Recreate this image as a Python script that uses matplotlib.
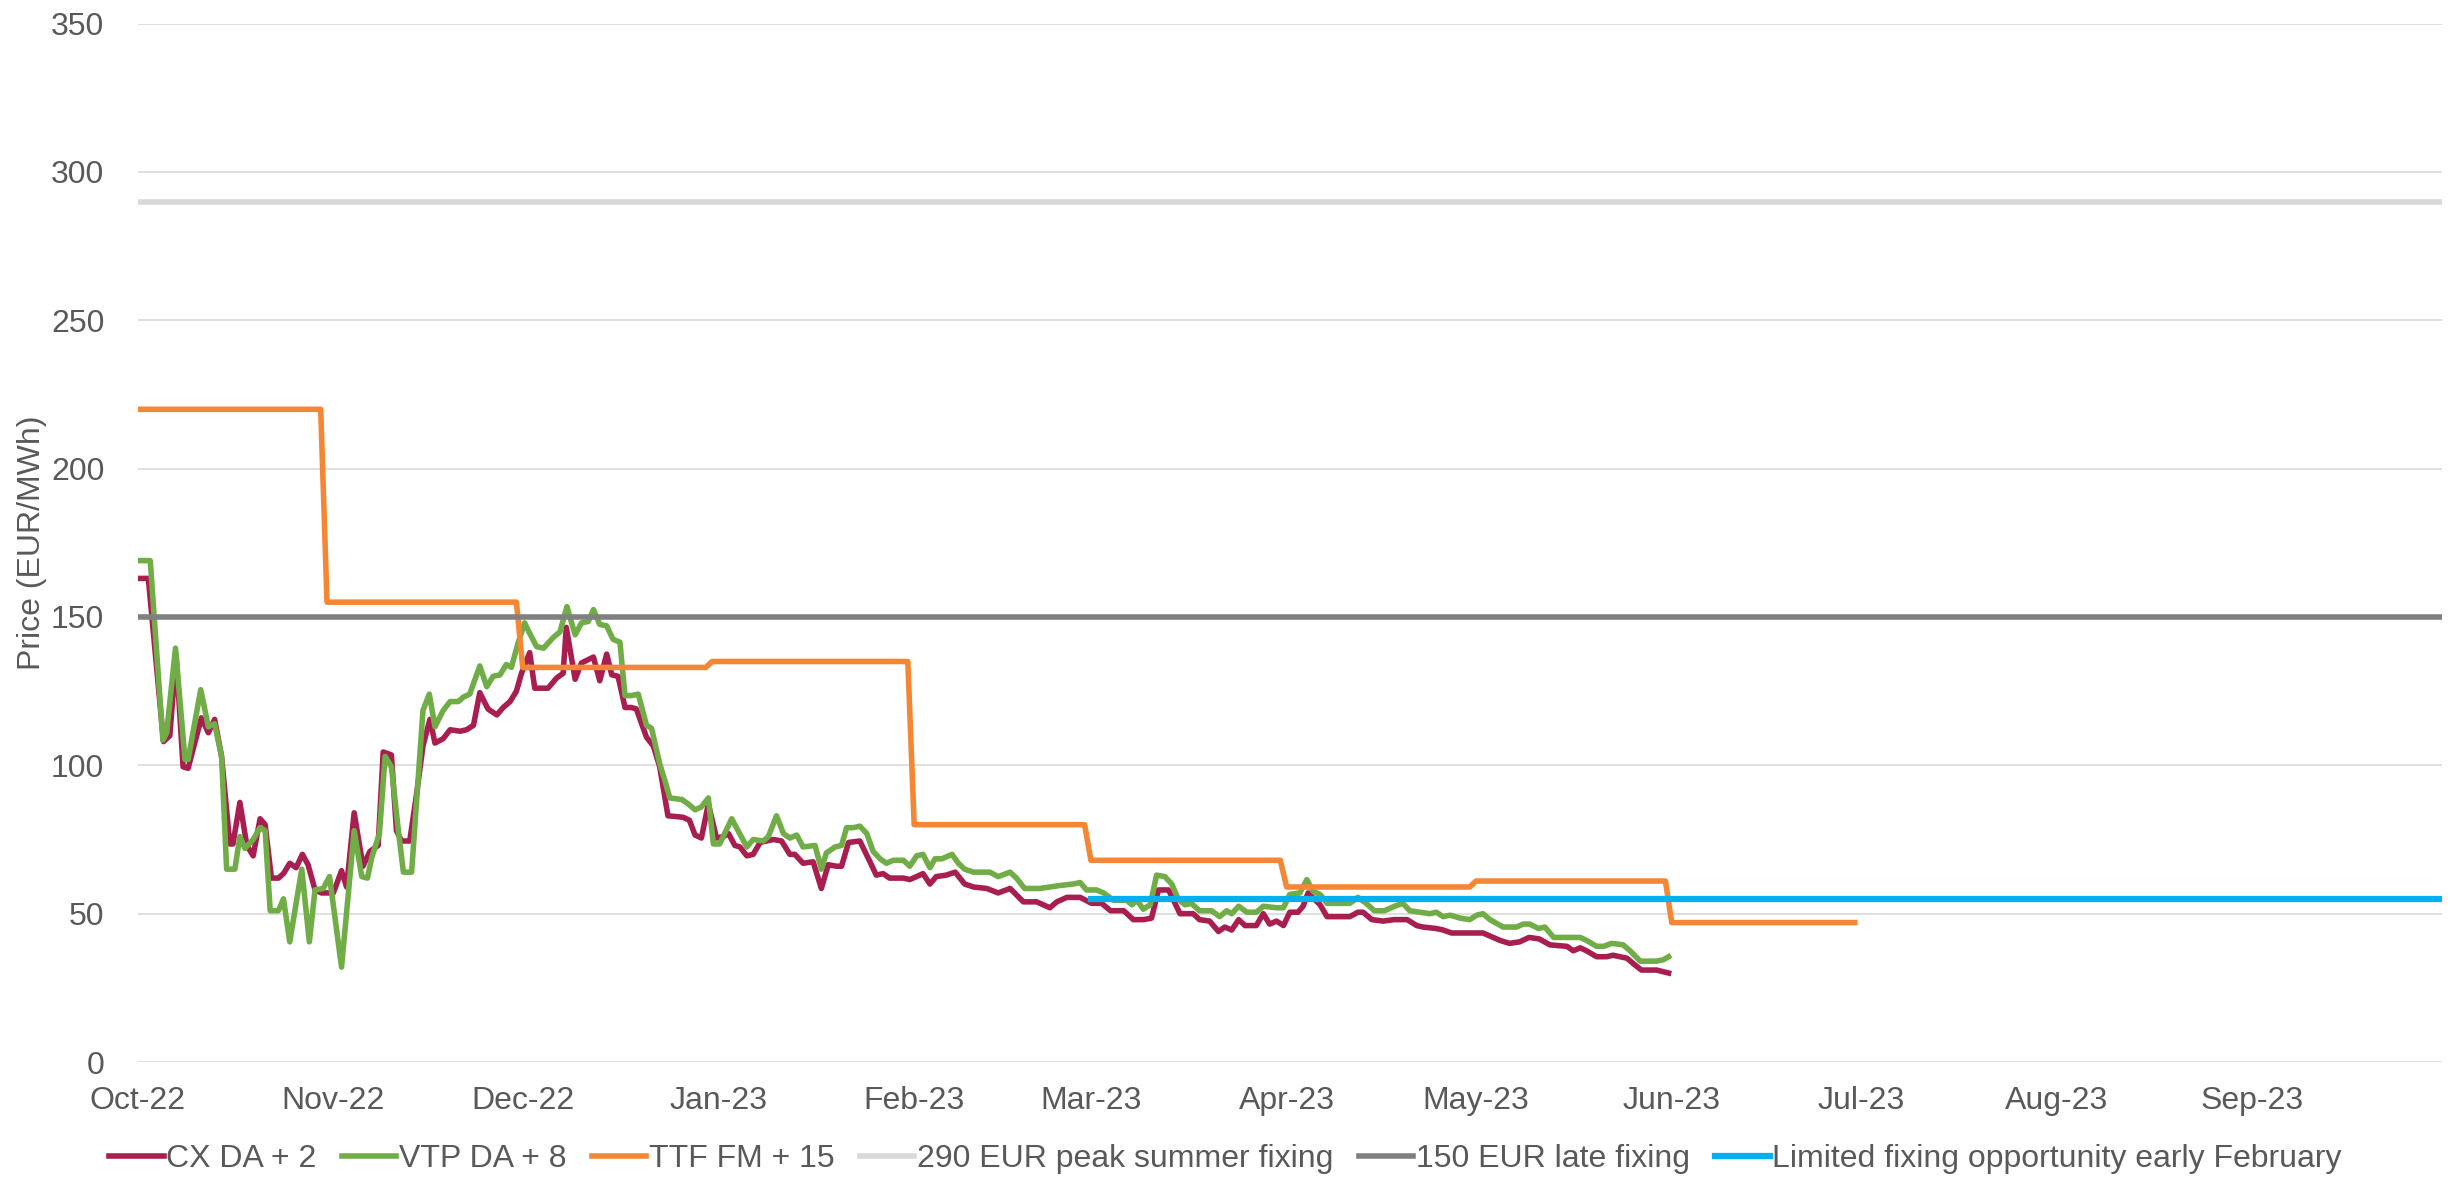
import datetime as dt
import matplotlib.pyplot as plt
import matplotlib.dates as mdates
import numpy as np

plt.rcParams['font.family'] = ['Liberation Sans', 'DejaVu Sans']

# dias desde el 1 de octubre de 2022, precio EUR/MWh
start = dt.date(2022, 10, 1)
end = dt.date(2023, 10, 1)

cx = [(0, 163), (1.7, 163), (4.1, 108), (5.1, 110), (6.1, 137), (7.2, 99.5), (8, 99),
      (10.1, 116), (11.2, 111), (12.2, 115.5), (13.3, 103), (14.6, 73.5), (15.1, 73.5),
      (16.2, 87.5), (17.3, 73), (18.3, 69.5), (19.4, 82), (20.2, 80), (21.2, 62), (22.3, 62),
      (23.1, 63.5), (24.1, 67), (25.1, 65.5), (26.1, 70), (27, 66.5), (28.1, 58), (29.1, 57),
      (31, 57), (32.3, 64.5), (33.1, 59), (34.3, 84), (35.7, 66), (36.8, 71), (38.1, 73),
      (38.9, 104.5), (40.2, 103.5), (41, 78), (41.8, 74.5), (43.1, 74.5), (44.2, 90.5),
      (45.2, 106.5), (46.3, 115.5), (47.1, 107.5), (48.4, 109), (49.5, 112), (51.1, 111.5),
      (52.1, 112), (53.2, 113.5), (54.2, 124.5), (55.5, 119), (56.9, 117), (57.9, 119.5),
      (59, 121.5), (60, 125), (60.8, 131), (62.1, 138), (62.9, 126), (65, 126), (66.4, 129.5),
      (67.4, 131), (67.9, 146.5), (69.3, 129), (70.3, 134.5), (72.2, 136.5), (73.2, 128.5),
      (74.3, 137.5), (75.1, 130.5), (76.1, 130), (77.2, 119.5), (78.2, 119.5), (79, 119),
      (80.6, 109.5), (81.7, 106.5), (82.7, 99.5), (84, 83), (86.4, 82.5), (87.4, 81.5),
      (88.3, 76.5), (89.3, 75.5), (90.4, 87), (91.7, 75.5), (92.8, 76), (93.6, 77), (94.6, 73),
      (95.4, 72.5), (96.5, 69.5), (97.5, 70), (98.6, 74), (99.6, 74.5), (100.7, 75), (102, 74.5),
      (103.3, 70), (104.1, 70), (105.4, 67), (107, 67.5), (108.3, 58.5), (109.4, 66.5),
      (110.7, 66), (111.5, 66), (112.6, 74), (114.4, 74.5), (116, 67.5), (117, 63), (118.1, 63.5),
      (119.1, 62), (121.3, 62), (122.3, 61.5), (123.4, 62.5), (124.4, 63.5), (125.5, 60),
      (126.5, 62.5), (128.1, 63), (129.5, 64), (131, 60), (132.4, 59), (134.5, 58.5), (136.3, 57),
      (138.2, 58.5), (140.3, 54), (142.4, 54), (144.5, 52), (145.6, 54), (147.2, 55.5),
      (149.3, 55.5), (151.1, 53.5), (152.7, 53.5), (154.1, 51), (156.2, 51), (157.7, 48),
      (159.3, 48), (160.6, 48.5), (161.7, 58), (163.3, 58), (164.1, 54.5), (165.1, 50),
      (167.2, 50), (168.2, 48), (169.8, 47.5), (171.2, 44), (172.2, 45.5), (173.3, 44.5),
      (174.4, 48), (175.4, 46), (177.2, 46), (178.3, 50), (179.3, 46.5), (180.4, 47.5),
      (181.5, 46), (182.5, 50.5), (183.8, 50.5), (184.6, 52.5), (185.4, 57), (186.6, 54.5),
      (187.3, 53), (188.4, 49), (192, 49), (193.3, 50.5), (194.1, 50.5), (195.5, 48),
      (197.3, 47.5), (199, 48), (201.1, 48), (202.6, 46), (203.6, 45.5), (205.7, 45),
      (206.8, 44.5), (208.1, 43.5), (213.1, 43.5), (214.7, 42), (215.8, 41), (217.3, 40),
      (218.9, 40.5), (220.4, 42), (222, 41.5), (223.7, 39.5), (226.4, 39), (227.4, 37.5),
      (228.5, 38.5), (229.5, 37.5), (231.1, 35.5), (232.7, 35.5), (233.7, 36), (235.9, 35),
      (237, 33), (238.2, 31), (240.6, 31), (242.5, 30)]

vtp = [(0, 169), (2, 169), (4, 108.5), (4.6, 111), (6, 139.5), (7.5, 102), (8, 102),
       (10, 125.5), (11.2, 113), (12.2, 114), (13.3, 103), (14.1, 65), (15.4, 65), (16.2, 76),
       (17, 72), (18.3, 75), (19.4, 79), (20.2, 78), (21, 51), (22.3, 51), (23.1, 55),
       (24.1, 40.5), (26, 65), (27.2, 40.5), (28.1, 58), (29.4, 58.5), (30.4, 62.5), (32.3, 32),
       (34.3, 78), (35.5, 62.5), (36.4, 62), (37.1, 69), (38.3, 77), (39.2, 103), (40.2, 99.5),
       (41.3, 78), (42.1, 64), (43.4, 64), (45.2, 118.5), (46.2, 124), (47.1, 113),
       (48.4, 118.5), (49.5, 121.5), (50.8, 121.5), (51.6, 123), (52.6, 124), (54.2, 133.5),
       (55.3, 126.5), (56.3, 130), (57.4, 130.5), (58.4, 134), (59.2, 133), (60.3, 141.5),
       (61.3, 148), (62.1, 144.5), (63.2, 140), (64.3, 139.5), (65.8, 143), (66.9, 145),
       (68, 153.5), (69.3, 144), (70.3, 148), (71.4, 148.5), (72.2, 152.5), (73.2, 147.5),
       (74.3, 147), (75.3, 142.5), (76.4, 141.5), (77.2, 123.5), (78.2, 123.5), (79.3, 124),
       (80.6, 113.5), (81.4, 112.5), (82.7, 100.5), (83.5, 95), (84.3, 89), (86.2, 88.5),
       (87.2, 87), (88.3, 85), (89.3, 86), (90.4, 89), (91.2, 73.5), (92.2, 73.5), (94.1, 82),
       (95.1, 78), (96.5, 72.5), (97.5, 75), (99.1, 74.5), (99.9, 76), (101.2, 83), (102.3, 77),
       (103.3, 75.5), (104.4, 76.5), (105.4, 72.5), (107.3, 73), (108.3, 65), (109.1, 70.5),
       (110.5, 72.5), (111.5, 73), (112.3, 79), (113.4, 79), (114.4, 79.5), (115.5, 77),
       (116.5, 71), (117.6, 68.5), (118.6, 67), (119.7, 68), (121.3, 68), (122.3, 66),
       (123.4, 69.5), (124.4, 70), (125.5, 65.5), (126.3, 68.5), (127.4, 68.5), (129, 70),
       (130, 67), (131, 65), (132.4, 64), (135, 64), (136.3, 62.5), (138.2, 64), (139.2, 62),
       (140.5, 58.5), (142.9, 58.5), (144.5, 59), (146.1, 59.5), (148.2, 60), (149.3, 60.5),
       (150.3, 58), (151.9, 58), (153, 57), (154.6, 54.5), (156.7, 54.5), (157.5, 53),
       (158.3, 54.5), (159.3, 51.5), (160.4, 53), (161.4, 63), (162.7, 62.5), (163.8, 60),
       (164.8, 55), (165.9, 53), (166.9, 53.5), (168.2, 51), (170.1, 51), (171.4, 49),
       (172.5, 51), (173.3, 50), (174.4, 52.5), (175.7, 50.5), (177.2, 50.5), (178.3, 52.5),
       (180.4, 52), (181.5, 52), (182.5, 56.5), (184.1, 57), (185.2, 61.5), (186.2, 57.5),
       (187.3, 56.5), (188.4, 53.5), (192, 53.5), (193.3, 55.5), (194.6, 53.5), (195.9, 51),
       (197.5, 51), (199.1, 52.5), (200.4, 53.5), (201.5, 51), (203.1, 50.5), (204.7, 50),
       (205.7, 50.5), (206.8, 49), (207.9, 49.5), (209.5, 48.5), (211, 48), (212.1, 49.5),
       (213.1, 50), (214.2, 48), (216.3, 45.5), (218.4, 45.5), (219.5, 46.5), (220.5, 46.5),
       (221.9, 45), (222.9, 45.5), (224.3, 42), (228.5, 42), (229.5, 41), (231.1, 39),
       (232.2, 39), (233.5, 40), (235.3, 39.5), (236.4, 37.5), (238, 34), (240.6, 34),
       (241.7, 34.5), (242.5, 35.5)]

# TTF front month + 15: periodo de cada producto mensual
ttf_start = ['2022-10-01', '2022-10-31', '2022-12-01', '2022-12-31', '2023-02-01',
             '2023-03-01', '2023-04-01', '2023-05-01', '2023-06-01']
ttf_end = ['2022-10-30', '2022-11-30', '2022-12-30', '2023-01-31', '2023-02-28',
           '2023-03-31', '2023-04-30', '2023-05-31', '2023-06-30']
ttf_vals = [220, 155, 133, 135, 80, 68, 59, 61, 47]

peak_fix = 290
late_fix = 150
feb_fix = 55
feb_fix_start = dt.date(2023, 3, 1)

t0 = mdates.date2num(start)
cx_x = t0 + np.array([d for d, v in cx])
cx_y = [v for d, v in cx]
vtp_x = t0 + np.array([d for d, v in vtp])
vtp_y = [v for d, v in vtp]

ttf_x, ttf_y = [], []
for s, e, v in zip(ttf_start, ttf_end, ttf_vals):
    ttf_x += [mdates.datestr2num(s), mdates.datestr2num(e)]
    ttf_y += [v, v]

fig = plt.figure(figsize=(24.53, 11.79), dpi=100)
ax = fig.add_axes([0.0561, 0.0992, 0.9394, 0.8808])

gris = '#595959'
lw = 4
l1, = ax.plot(cx_x, cx_y, color='#A81E50', lw=lw, label='CX DA + 2', zorder=3)
l2, = ax.plot(vtp_x, vtp_y, color='#70AD47', lw=lw, label='VTP DA + 8', zorder=4)
l3, = ax.plot(ttf_x, ttf_y, color='#F58634', lw=lw, label='TTF FM + 15', zorder=5)
l4, = ax.plot([start, end], [peak_fix, peak_fix], color='#D9D9D9', lw=lw,
              label='290 EUR peak summer fixing', zorder=6)
l5, = ax.plot([start, end], [late_fix, late_fix], color='#808080', lw=lw,
              label='150 EUR late fixing', zorder=7)
l6, = ax.plot([feb_fix_start, end], [feb_fix, feb_fix], color='#00B0F0', lw=4.5,
              label='Limited fixing opportunity early February', zorder=8)

ax.set_xlim(start, end)
ax.set_ylim(0, 350)
ax.set_yticks(np.arange(0, 351, 50))
meses = [dt.date(2022 + (9 + i) // 12, (9 + i) % 12 + 1, 1) for i in range(12)]
ax.set_xticks(meses)
ax.xaxis.set_major_formatter(mdates.DateFormatter('%b-%y'))
ax.grid(axis='y', color='#D9D9D9', lw=1.2, zorder=0)
ax.grid(axis='x', visible=False)
for sp in ax.spines.values():
    sp.set_visible(False)
ax.tick_params(length=0, labelsize=23, colors=gris)
ax.tick_params(axis='x', pad=17)
ax.tick_params(axis='y', pad=24)
ax.set_ylabel('Price (EUR/MWh)', fontsize=23, color=gris, labelpad=3)

fig.legend(handles=[l1, l2, l3, l4, l5, l6], loc='center', bbox_to_anchor=(0.4996, 0.017),
           ncol=6, frameon=False, fontsize=23, handlelength=1.7, handletextpad=0.08,
           columnspacing=0.8, labelcolor=gris)

fig.savefig('out.png', dpi=100)
